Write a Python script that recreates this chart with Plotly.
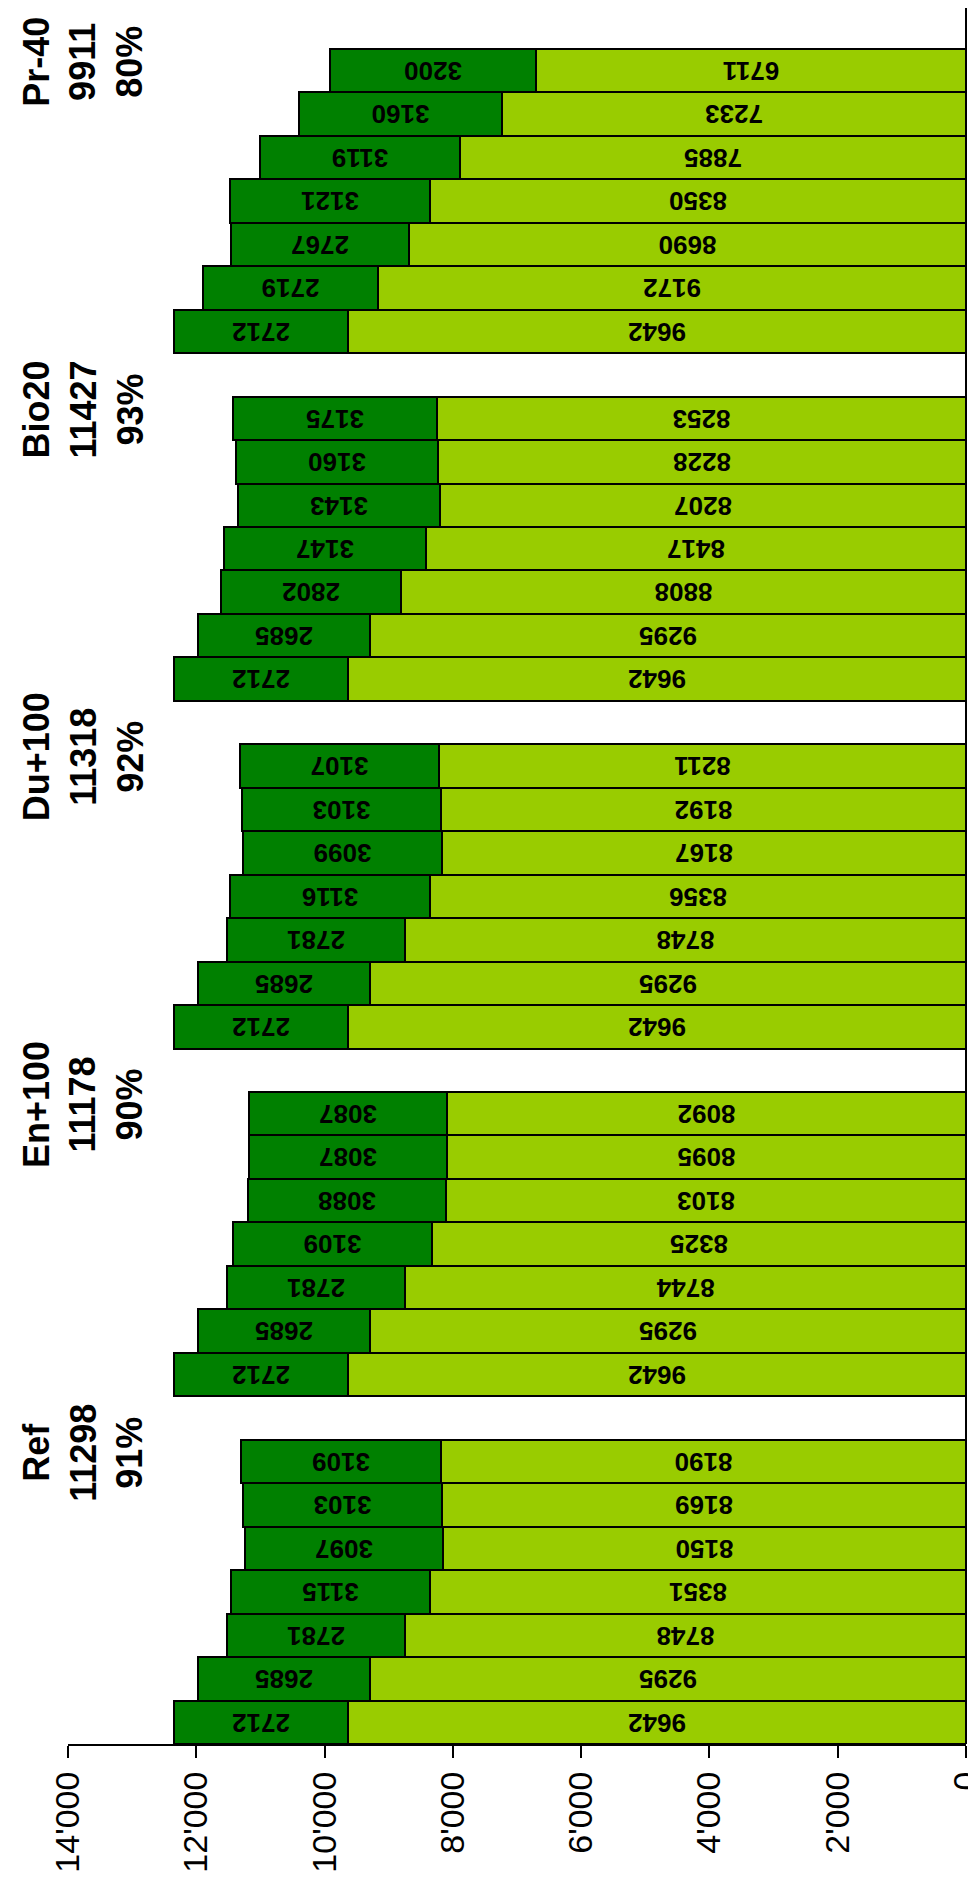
import plotly.graph_objects as go

groups = ["Ref", "En+100", "Du+100", "Bio20", "Pr-40"]
group_totals = ["11298", "11178", "11318", "11427", "9911"]
group_pcts = ["91%", "90%", "92%", "93%", "80%"]

ref_light = [9642, 9295, 8748, 8351, 8150, 8169, 8190]
ref_dark = [2712, 2685, 2781, 3115, 3097, 3103, 3109]
en_light = [9642, 9295, 8744, 8325, 8103, 8095, 8092]
en_dark = [2712, 2685, 2781, 3109, 3088, 3087, 3087]
du_light = [9642, 9295, 8748, 8356, 8167, 8192, 8211]
du_dark = [2712, 2685, 2781, 3116, 3099, 3103, 3107]
bio_light = [9642, 9295, 8808, 8417, 8207, 8228, 8253]
bio_dark = [2712, 2685, 2802, 3147, 3143, 3160, 3175]
pr_light = [9642, 9172, 8690, 8350, 7885, 7233, 6711]
pr_dark = [2712, 2719, 2767, 3121, 3119, 3160, 3200]

light_series = [ref_light, en_light, du_light, bio_light, pr_light]
dark_series = [ref_dark, en_dark, du_dark, bio_dark, pr_dark]

x_ticks = [0, 2000, 4000, 6000, 8000, 10000, 12000, 14000]
x_ticktext = ["0", "2'000", "4'000", "6'000", "8'000", "10'000", "12'000", "14'000"]

LIGHT = "#99CC00"
DARK = "#008000"
SLOT = 8  # 7 bars + 1 gap per group
FONT = "Liberation Sans"

ypos, lx, dx = [], [], []
for g, (ls, ds) in enumerate(zip(light_series, dark_series)):
    for i, (l, d) in enumerate(zip(ls, ds)):
        ypos.append(g * SLOT + i)
        lx.append(l)
        dx.append(d)

bar_font = dict(family=FONT, size=26, color="black", weight="bold")

fig = go.Figure()
fig.add_trace(go.Bar(
    y=ypos, x=lx, orientation="h", width=1,
    marker=dict(color=LIGHT, line=dict(color="black", width=2)),
    text=[str(v) for v in lx], texttemplate="%{text}",
    textposition="inside", insidetextanchor="middle", textangle=180,
    textfont=bar_font, constraintext="none", hoverinfo="skip",
))
fig.add_trace(go.Bar(
    y=ypos, x=dx, orientation="h", width=1,
    marker=dict(color=DARK, line=dict(color="black", width=2)),
    text=[str(v) for v in dx], texttemplate="%{text}",
    textposition="inside", insidetextanchor="middle", textangle=180,
    textfont=bar_font, constraintext="none", hoverinfo="skip",
))

for g, name in enumerate(groups):
    fig.add_annotation(
        x=0.017, xref="paper", y=g * SLOT + 6, yref="y", yshift=9,
        text=f"{name}<br>{group_totals[g]}<br>{group_pcts[g]}",
        textangle=-90, showarrow=False, xanchor="center", yanchor="middle",
        font=dict(family=FONT, size=36, color="black", weight="bold"),
    )

# baseline at zero (right edge of plot area)
fig.add_shape(type="line", xref="paper", yref="paper", x0=1, x1=1, y0=0, y1=1,
              line=dict(color="black", width=2))

fig.update_layout(
    width=976, height=1879,
    margin=dict(l=60, r=13, t=0, b=143),
    barmode="stack", bargap=0,
    showlegend=False,
    plot_bgcolor="white", paper_bgcolor="white",
    font=dict(family=FONT),
    xaxis=dict(
        range=[14000, 0], tickvals=x_ticks, ticktext=x_ticktext,
        tickangle=-90, ticks="outside", ticklen=12, tickwidth=2, tickcolor="black",
        showline=True, linecolor="black", linewidth=2,
        showgrid=False, zeroline=False, ticklabelstandoff=0,
        ticklabeloverflow="allow",
        tickfont=dict(family=FONT, size=34, color="black"),
    ),
    yaxis=dict(
        range=[-0.5, 39.44], showticklabels=False, showgrid=False,
        zeroline=False, showline=False, ticks="",
    ),
)

fig.write_html("out.html")
